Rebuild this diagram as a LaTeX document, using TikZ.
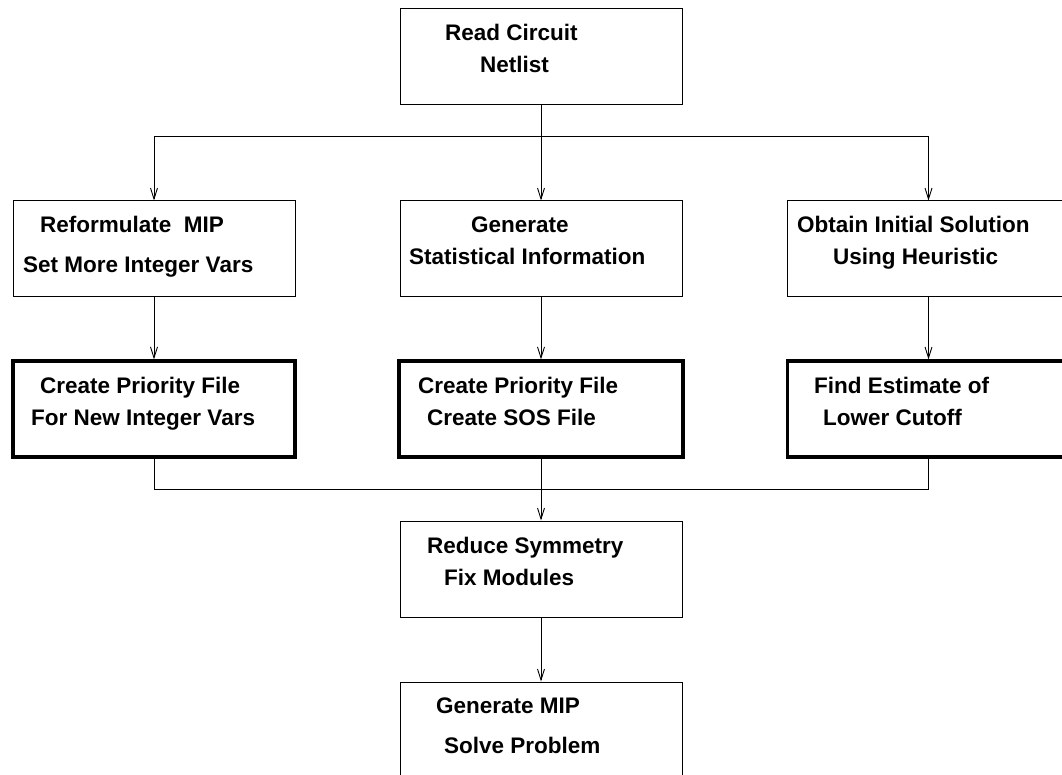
\documentclass[tikz,border=0pt]{standalone}
\usepackage{fontspec}
\setmainfont{Liberation Sans}
\usetikzlibrary{arrows.meta}
\begin{document}
\begin{tikzpicture}[x=1pt,y=-1pt,
  box/.style={draw=black,line width=1pt,rectangle,minimum width=282pt,minimum height=96pt,inner sep=0pt},
  thickbox/.style={box,line width=3.2pt},
  lbl/.style={anchor=base west,inner sep=0pt,font=\fontsize{22.5}{27}\selectfont\bfseries},
  conn/.style={draw=black,line width=1pt},
  arr/.style={conn,-{Straight Barb[length=11pt,width=7pt,line width=0.9pt]}}]
\useasboundingbox (0,0) rectangle (1062,775);
\clip (0,0) rectangle (1062,775);
% boxes
\node[box] (read) at (541,57) {};
\node[box] (reform) at (154,249) {};
\node[box] (stat) at (541,249) {};
\node[box] (heur) at (928.5,249) {};
\node[thickbox] (prio) at (154,409) {};
\node[thickbox,minimum width=284pt] (sos) at (541,409) {};
\node[thickbox] (cutoff) at (928.5,409) {};
\node[box] (reduce) at (541,569) {};
\node[box,minimum height=120pt] (solve) at (541,742) {};
% labels
\node[lbl] (t1) at (445,41) {Read Circuit};
\node[lbl] (t2) at (480,73) {Netlist};
\node[lbl] (t3) at (40,233) {Reformulate\ \ MIP};
\node[lbl] (t4) at (23,273) {Set More Integer Vars};
\node[lbl] (t5) at (471,233) {Generate};
\node[lbl] (t6) at (409,265) {Statistical Information};
\node[lbl] (t7) at (797,233) {Obtain Initial Solution};
\node[lbl] (t8) at (833,265) {Using Heuristic};
\node[lbl] (t9) at (40,393) {Create Priority File};
\node[lbl] (t10) at (31,425) {For New Integer Vars};
\node[lbl] (t11) at (418,393) {Create Priority File};
\node[lbl] (t12) at (427,425) {Create SOS File};
\node[lbl] (t13) at (814,393) {Find Estimate of};
\node[lbl] (t14) at (823,425) {Lower Cutoff};
\node[lbl] (t15) at (427,553) {Reduce Symmetry};
\node[lbl] (t16) at (444,585) {Fix Modules};
\node[lbl] (t17) at (436,713) {Generate MIP};
\node[lbl] (t18) at (444,753) {Solve Problem};
% connectors
\coordinate (split) at (541,137);
\coordinate (join) at (541,489);
\draw[arr] (read.south) -- (stat.north);
\draw[arr] (split) -| (reform.north);
\draw[arr] (split) -| (heur.north);
\draw[arr] (reform.south) -- (prio.north);
\draw[arr] (stat.south) -- (sos.north);
\draw[arr] (heur.south) -- (cutoff.north);
\draw[conn] (prio.south) |- (join);
\draw[conn] (cutoff.south) |- (join);
\draw[arr] (sos.south) -- (reduce.north);
\draw[arr] (reduce.south) -- (solve.north);
\end{tikzpicture}
\end{document}
